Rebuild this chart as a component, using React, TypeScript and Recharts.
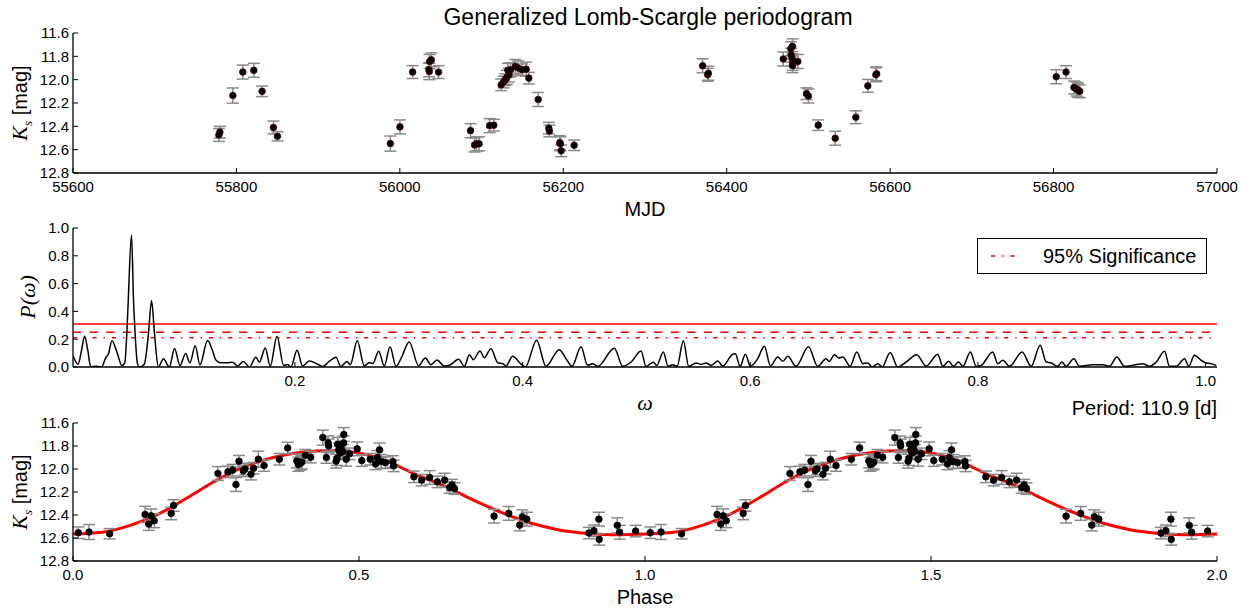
import React from 'react';
import {
  ComposedChart, LineChart, Line, Scatter, ErrorBar, XAxis, YAxis, ReferenceLine,
} from 'recharts';

const W = 1253;
const H = 609;
const FONT = '"Liberation Sans", Arial, Helvetica, sans-serif';
const SERIF = '"Liberation Serif", "DejaVu Serif", serif';

// light curve: [MJD, Ks, err]
const lightCurve: [number, number, number][] = [
  [55778.5, 12.474, 0.055], [55779.7, 12.45, 0.05], [55795.6, 12.136, 0.065],
  [55807.8, 11.935, 0.06], [55821.3, 11.92, 0.06], [55831.4, 12.10, 0.045],
  [55845.3, 12.41, 0.055], [55850.2, 12.485, 0.04], [55988.4, 12.548, 0.065],
  [56000.1, 12.405, 0.06], [56015.6, 11.935, 0.055], [56036.4, 11.844, 0.06],
  [56038.5, 11.83, 0.06], [56035.6, 11.915, 0.06], [56036.0, 11.93, 0.07],
  [56047.4, 11.935, 0.055], [56086.5, 12.437, 0.06], [56091.4, 12.56, 0.06],
  [56093.8, 12.55, 0.06], [56097.0, 12.55, 0.06], [56109.8, 12.394, 0.06],
  [56115.0, 12.39, 0.05], [56124.0, 12.044, 0.05], [56126.9, 12.02, 0.05],
  [56129.0, 12.0, 0.05], [56131.0, 11.98, 0.06], [56133.5, 11.96, 0.06],
  [56132.2, 11.92, 0.06], [56135.4, 11.915, 0.06], [56141.2, 11.887, 0.06],
  [56144.8, 11.90, 0.06], [56149.7, 11.915, 0.05], [56154.6, 11.91, 0.06],
  [56157.8, 11.987, 0.05], [56169.3, 12.17, 0.06], [56182.3, 12.416, 0.05],
  [56183.0, 12.44, 0.05], [56195.7, 12.54, 0.06], [56196.5, 12.55, 0.06],
  [56197.4, 12.61, 0.05], [56213.3, 12.562, 0.045], [56370.5, 11.881, 0.06],
  [56376.7, 11.958, 0.055], [56377.5, 11.945, 0.06], [56469.2, 11.823, 0.06],
  [56478.5, 11.735, 0.06], [56480.5, 11.715, 0.065], [56479.0, 11.79, 0.06],
  [56480.0, 11.82, 0.06], [56480.8, 11.86, 0.06], [56480.5, 11.88, 0.06],
  [56487.1, 11.844, 0.06], [56497.6, 12.12, 0.05], [56500.0, 12.14, 0.06],
  [56512.0, 12.39, 0.045], [56532.8, 12.502, 0.06], [56558.0, 12.322, 0.055],
  [56572.7, 12.053, 0.055], [56582.5, 11.958, 0.06], [56583.5, 11.95, 0.06],
  [56803.3, 11.975, 0.06], [56815.2, 11.935, 0.055], [56825.0, 12.067, 0.055],
  [56828.0, 12.08, 0.06], [56830.0, 12.09, 0.06], [56832.0, 12.10, 0.055],
];

// periodogram: [omega, power]
const periodogram: [number, number][] = [
  [0.005, 0.08], [0.0095, 0.02], [0.0125, 0.12], [0.0152, 0.222], [0.018, 0.12],
  [0.0206, 0.0], [0.025, 0.006], [0.03, 0.0], [0.034, 0.07], [0.036, 0.09],
  [0.0392, 0.188], [0.0435, 0.11], [0.048, 0.01], [0.0505, 0.03], [0.0526, 0.3],
  [0.0535, 0.47], [0.0564, 0.95], [0.0582, 0.47], [0.0592, 0.3], [0.0615, 0.03],
  [0.0632, 0.0], [0.0676, 0.02], [0.0713, 0.24], [0.074, 0.477], [0.0766, 0.24],
  [0.08, 0.0], [0.0845, 0.06], [0.0896, 0.0], [0.0942, 0.133], [0.099, 0.01],
  [0.1039, 0.097], [0.1077, 0.03], [0.1124, 0.152], [0.1165, 0.015], [0.1232, 0.19],
  [0.1275, 0.12], [0.1305, 0.05], [0.135, 0.03], [0.14, 0.03], [0.145, 0.035],
  [0.1496, 0.008], [0.1546, 0.04], [0.16, 0.0], [0.1657, 0.07], [0.1687, 0.035],
  [0.1739, 0.137], [0.1783, 0.005], [0.1842, 0.222], [0.19, 0.012], [0.1935, 0.018],
  [0.1965, 0.0], [0.2018, 0.12], [0.2067, 0.007], [0.2126, 0.043], [0.22, 0.02],
  [0.2243, 0.003], [0.23, 0.04], [0.236, 0.07], [0.2403, 0.003], [0.2456, 0.04],
  [0.2486, 0.017], [0.2547, 0.188], [0.2609, 0.008], [0.265, 0.03], [0.2685, 0.026],
  [0.2735, 0.113], [0.2785, 0.008], [0.2835, 0.145], [0.2888, 0.005], [0.2931, 0.06],
  [0.3004, 0.18], [0.3086, 0.008], [0.3145, 0.065], [0.3194, 0.017], [0.3248, 0.05],
  [0.331, 0.007], [0.3356, 0.012], [0.3438, 0.055], [0.3488, 0.005], [0.3532, 0.089],
  [0.3567, 0.053], [0.3625, 0.116], [0.3663, 0.067], [0.3722, 0.132], [0.3781, 0.031],
  [0.3825, 0.024], [0.3854, 0.007], [0.3912, 0.077], [0.3986, 0.02], [0.4024, 0.0],
  [0.4123, 0.193], [0.4205, 0.005], [0.4322, 0.125], [0.4381, 0.06], [0.4434, 0.005],
  [0.4513, 0.145], [0.4571, 0.012], [0.4615, 0.024], [0.4659, 0.005], [0.4806, 0.135],
  [0.4879, 0.005], [0.4953, 0.036], [0.504, 0.116], [0.5084, 0.005], [0.5149, 0.034],
  [0.5178, 0.01], [0.5236, 0.108], [0.5278, 0.005], [0.5318, 0.017], [0.5357, 0.005],
  [0.5412, 0.188], [0.5459, 0.005], [0.5524, 0.029], [0.5568, 0.019], [0.5612, 0.029],
  [0.5656, 0.012], [0.5714, 0.043], [0.5757, 0.007], [0.5845, 0.092], [0.5869, 0.096],
  [0.591, 0.005], [0.5957, 0.092], [0.6001, 0.005], [0.6065, 0.06], [0.6124, 0.149],
  [0.6177, 0.007], [0.6241, 0.072], [0.6285, 0.041], [0.6329, 0.077], [0.6402, 0.005],
  [0.6511, 0.145], [0.6592, 0.005], [0.6666, 0.06], [0.6695, 0.04], [0.6739, 0.089],
  [0.6777, 0.065], [0.6812, 0.072], [0.6877, 0.005], [0.6935, 0.108], [0.6988, 0.024],
  [0.7032, 0.029], [0.707, 0.0], [0.712, 0.024], [0.7158, 0.0], [0.7229, 0.104],
  [0.7295, 0.0], [0.7369, 0.036], [0.7462, 0.089], [0.7545, 0.007], [0.7647, 0.092],
  [0.7691, 0.005], [0.7744, 0.041], [0.7785, 0.005], [0.7829, 0.036], [0.7867, 0.005],
  [0.7934, 0.108], [0.7984, 0.005], [0.8028, 0.012], [0.813, 0.108], [0.8174, 0.024],
  [0.8218, 0.048], [0.8277, 0.005], [0.8388, 0.108], [0.8467, 0.005], [0.8547, 0.157],
  [0.8599, 0.036], [0.8643, 0.029], [0.8701, 0.005], [0.8736, 0.036], [0.8775, 0.005],
  [0.8842, 0.06], [0.8892, 0.005], [0.9009, 0.017], [0.9097, 0.017], [0.9156, 0.005],
  [0.922, 0.072], [0.9287, 0.005], [0.936, 0.012], [0.9448, 0.024], [0.9507, 0.005],
  [0.9566, 0.036], [0.9639, 0.113], [0.9683, 0.005], [0.9742, 0.005], [0.9815, 0.06],
  [0.9852, 0.005], [0.9902, 0.084], [0.9961, 0.048], [1.0005, 0.029], [1.0049, 0.024],
  [1.0093, 0.012],
];

// significance levels
const sigSolid = 0.31;
const sigDashed = 0.25;
const sig95 = 0.21;

// phase-folded points: [phase, Ks, err]
const folded: [number, number, number][] = [
  [0.0093, 12.554, 0.05], [0.028, 12.548, 0.065], [0.064, 12.563, 0.045],
  [0.126, 12.395, 0.07], [0.1325, 12.479, 0.055], [0.1366, 12.407, 0.06],
  [0.142, 12.45, 0.06], [0.1716, 12.386, 0.055], [0.1757, 12.317, 0.05],
  [0.2534, 12.039, 0.06], [0.2709, 12.025, 0.05], [0.279, 12.01, 0.05],
  [0.2849, 12.135, 0.06], [0.2902, 11.932, 0.05], [0.2977, 12.016, 0.05],
  [0.3007, 12.0, 0.05], [0.3112, 12.045, 0.05], [0.3158, 11.993, 0.05],
  [0.324, 11.915, 0.07], [0.334, 11.97, 0.05], [0.3608, 11.915, 0.05],
  [0.3753, 11.817, 0.05], [0.3914, 11.93, 0.06], [0.394, 11.96, 0.06],
  [0.3978, 11.95, 0.06], [0.4, 11.94, 0.06], [0.4063, 11.88, 0.05],
  [0.4156, 11.897, 0.05], [0.4367, 11.727, 0.065], [0.443, 11.9, 0.05],
  [0.446, 11.773, 0.06], [0.447, 11.8, 0.06], [0.46, 11.932, 0.06],
  [0.4615, 11.908, 0.06], [0.4629, 11.785, 0.06], [0.4647, 11.834, 0.06],
  [0.467, 11.86, 0.06], [0.4687, 11.82, 0.06], [0.4717, 11.848, 0.06],
  [0.4734, 11.70, 0.06], [0.473, 11.773, 0.06], [0.4776, 11.915, 0.06],
  [0.4834, 11.868, 0.05], [0.4968, 11.825, 0.06], [0.5049, 11.927, 0.05],
  [0.5196, 11.915, 0.05], [0.5289, 11.956, 0.05], [0.532, 11.90, 0.06],
  [0.5359, 11.834, 0.06], [0.539, 11.935, 0.06], [0.5464, 11.945, 0.05],
  [0.5592, 11.935, 0.05], [0.5604, 11.973, 0.05], [0.596, 12.068, 0.05],
  [0.6095, 12.097, 0.05], [0.6235, 12.074, 0.06], [0.637, 12.112, 0.05],
  [0.6497, 12.097, 0.06], [0.6585, 12.16, 0.05], [0.6626, 12.14, 0.05],
  [0.667, 12.17, 0.05], [0.7361, 12.41, 0.06], [0.7618, 12.386, 0.06],
  [0.781, 12.488, 0.05], [0.7856, 12.415, 0.06], [0.7933, 12.436, 0.06],
  [0.9019, 12.557, 0.05], [0.9107, 12.537, 0.05], [0.9194, 12.436, 0.06],
  [0.92, 12.612, 0.05], [0.9515, 12.49, 0.065], [0.9556, 12.55, 0.06],
  [0.9836, 12.54, 0.05],
];

// model fit, one cycle
const fitPhase = [0, 0.05, 0.1, 0.15, 0.2, 0.25, 0.3, 0.35, 0.4, 0.45, 0.5, 0.55, 0.6, 0.65, 0.7, 0.75, 0.8, 0.85, 0.9, 0.95];
const fitMag = [12.565, 12.55, 12.49, 12.39, 12.25, 12.1, 11.98, 11.9, 11.855, 11.84, 11.86, 11.935, 12.05, 12.15, 12.27, 12.38, 12.47, 12.53, 12.56, 12.572];

const mjdTicks = [55600, 55800, 56000, 56200, 56400, 56600, 56800, 57000];
const magTicks = [11.6, 11.8, 12.0, 12.2, 12.4, 12.6, 12.8];
const omegaTicks = [0.2, 0.4, 0.6, 0.8, 1.0];
const powerTicks = [0, 0.2, 0.4, 0.6, 0.8, 1.0];
const phaseTicks = [0, 0.5, 1.0, 1.5, 2.0];

const lcData = lightCurve.map(([x, y, e]) => ({ x, y, e }));
const pgData = periodogram.map(([x, y]) => ({ x, y }));
const foldData = [
  ...folded.map(([x, y, e]) => ({ x, y, e })),
  ...folded.map(([x, y, e]) => ({ x: x + 1, y, e })),
];
const fitData = [
  ...fitPhase.map((p, i) => ({ x: p, y: fitMag[i] })),
  ...fitPhase.map((p, i) => ({ x: p + 1, y: fitMag[i] })),
  { x: 2, y: fitMag[0] },
];

const axisLine = { stroke: '#000', strokeWidth: 1.3 };
const tickLine = { stroke: '#000', strokeWidth: 1 };
const tickFont = { fill: '#000', fontSize: 15, fontFamily: FONT };
const f1 = (v: number) => v.toFixed(1);

const Dot = (props: any) => {
  const { cx, cy, edge } = props;
  if (cx == null || cy == null) return null;
  return <circle cx={cx} cy={cy} r={3.3} fill="#000" stroke={edge || '#000'} strokeWidth={0.8} />;
};

// frame axes: bottom/left labelled, top/right ticks only, ticks pointing inward
function frameAxes(domainX: [number, number], ticksX: number[], fmtX: (v: number) => string,
  domainY: [number, number], ticksY: number[], reversed: boolean, bottomH: number) {
  return [
    <XAxis key="b" xAxisId="b" type="number" dataKey="x" domain={domainX} ticks={ticksX}
      allowDataOverflow interval={0} height={bottomH} tickSize={-5} tickMargin={13}
      axisLine={axisLine} tickLine={tickLine} tick={tickFont} tickFormatter={fmtX} />,
    <XAxis key="t" xAxisId="t" orientation="top" type="number" dataKey="x" domain={domainX}
      ticks={ticksX} allowDataOverflow interval={0} height={0} tickSize={-5}
      axisLine={axisLine} tickLine={tickLine} tick={false} />,
    <YAxis key="l" yAxisId="l" type="number" dataKey="y" domain={domainY} ticks={ticksY}
      reversed={reversed} allowDataOverflow interval={0} width={73} tickSize={-5} tickMargin={9}
      axisLine={axisLine} tickLine={tickLine} tick={tickFont} tickFormatter={f1} />,
    <YAxis key="r" yAxisId="r" orientation="right" type="number" dataKey="y" domain={domainY}
      ticks={ticksY} reversed={reversed} allowDataOverflow interval={0} width={0} tickSize={-5}
      axisLine={axisLine} tickLine={tickLine} tick={false} />,
  ];
}

const Txt = ({ x, y, size = 20, anchor = 'middle', style, children }: any) => (
  <div style={{
    position: 'absolute', left: x, top: y, fontSize: size, fontFamily: FONT, lineHeight: 1,
    whiteSpace: 'nowrap', color: '#000',
    transform: `translate(${anchor === 'middle' ? '-50%' : anchor === 'end' ? '-100%' : '0'}, -50%)`,
    ...style,
  }}>{children}</div>
);

const KsLabel = ({ x, y }: { x: number; y: number }) => (
  <div style={{
    position: 'absolute', left: x, top: y, fontSize: 20, fontFamily: FONT, lineHeight: 1,
    whiteSpace: 'nowrap', transform: 'translate(-50%, -50%) rotate(-90deg)',
  }}>
    <span style={{ fontFamily: SERIF, fontStyle: 'italic', fontSize: 22 }}>K</span>
    <sub style={{ fontFamily: SERIF, fontStyle: 'italic', fontSize: 13 }}>s</sub> [mag]
  </div>
);

export default function App() {
  const abs: React.CSSProperties = { position: 'absolute', left: 0, top: 0 };
  return (
    <div style={{ position: 'absolute', left: 0, top: 0, width: W, height: H, background: '#fff' }}>
      {/* light curve */}
      <ComposedChart width={W} height={H} margin={{ top: 33, right: 36, bottom: 0, left: 0 }} style={abs}>
        {frameAxes([55600, 57000], mjdTicks, (v) => String(v), [11.6, 12.8], magTicks, true, 436)}
        <Scatter xAxisId="b" yAxisId="l" data={lcData} dataKey="y" isAnimationActive={false}
          shape={(p: any) => <Dot {...p} edge="#4a0000" />}>
          <ErrorBar dataKey="e" direction="y" width={6} stroke="#8a8a8a" strokeWidth={1.5} />
        </Scatter>
      </ComposedChart>

      {/* periodogram */}
      <LineChart width={W} height={H} data={pgData} margin={{ top: 228, right: 36, bottom: 0, left: 0 }} style={abs}>
        {frameAxes([0.005, 1.01], omegaTicks, f1, [0, 1], powerTicks, false, 242)}
        <ReferenceLine xAxisId="b" yAxisId="l" y={sigSolid} stroke="#ff0000" strokeWidth={1.5} />
        <ReferenceLine xAxisId="b" yAxisId="l" y={sigDashed} stroke="#ff0000" strokeWidth={1.5} strokeDasharray="8.3 8.3" />
        <ReferenceLine xAxisId="b" yAxisId="l" y={sig95} stroke="#ff0000" strokeWidth={1.5} strokeDasharray="4.2 6.9 1.4 6.9" />
        <Line xAxisId="b" yAxisId="l" type="monotone" dataKey="y" stroke="#000" strokeWidth={1.5}
          dot={false} isAnimationActive={false} />
      </LineChart>

      {/* phase-folded */}
      <ComposedChart width={W} height={H} margin={{ top: 423, right: 36, bottom: 0, left: 0 }} style={abs}>
        {frameAxes([0, 2], phaseTicks, f1, [11.6, 12.8], magTicks, true, 48)}
        <Line xAxisId="b" yAxisId="l" data={fitData} type="monotone" dataKey="y" stroke="#ff0000"
          strokeWidth={3} dot={false} isAnimationActive={false} />
        <Scatter xAxisId="b" yAxisId="l" data={foldData} dataKey="y" isAnimationActive={false}
          shape={(p: any) => <Dot {...p} />}>
          <ErrorBar dataKey="e" direction="y" width={6} stroke="#8a8a8a" strokeWidth={1.5} />
        </Scatter>
      </ComposedChart>

      <Txt x={648} y={17} size={23}>Generalized Lomb-Scargle periodogram</Txt>
      <Txt x={645} y={209}>MJD</Txt>
      <Txt x={645} y={403} size={22} style={{ fontFamily: SERIF, fontStyle: 'italic' }}>ω</Txt>
      <Txt x={1217} y={408} anchor="end">Period: 110.9 [d]</Txt>
      <Txt x={645} y={597}>Phase</Txt>
      <KsLabel x={21} y={103} />
      <KsLabel x={21} y={492} />
      <Txt x={28} y={297} size={22} style={{ fontFamily: SERIF, fontStyle: 'italic', transform: 'translate(-50%, -50%) rotate(-90deg)' }}>
        P(ω)
      </Txt>

      {/* legend */}
      <div style={{
        position: 'absolute', left: 977, top: 238, width: 230, height: 36, boxSizing: 'border-box',
        border: '1.3px solid #000', background: '#fff',
      }}>
        <svg width={44} height={34} style={{ position: 'absolute', left: 0, top: 0 }}>
          <line x1={13} x2={41} y1={17} y2={17} stroke="#ff0000" strokeWidth={1.5} strokeDasharray="4.2 6.9 1.4 6.9" />
        </svg>
        <Txt x={65} y={17} anchor="start">95% Significance</Txt>
      </div>
    </div>
  );
}
